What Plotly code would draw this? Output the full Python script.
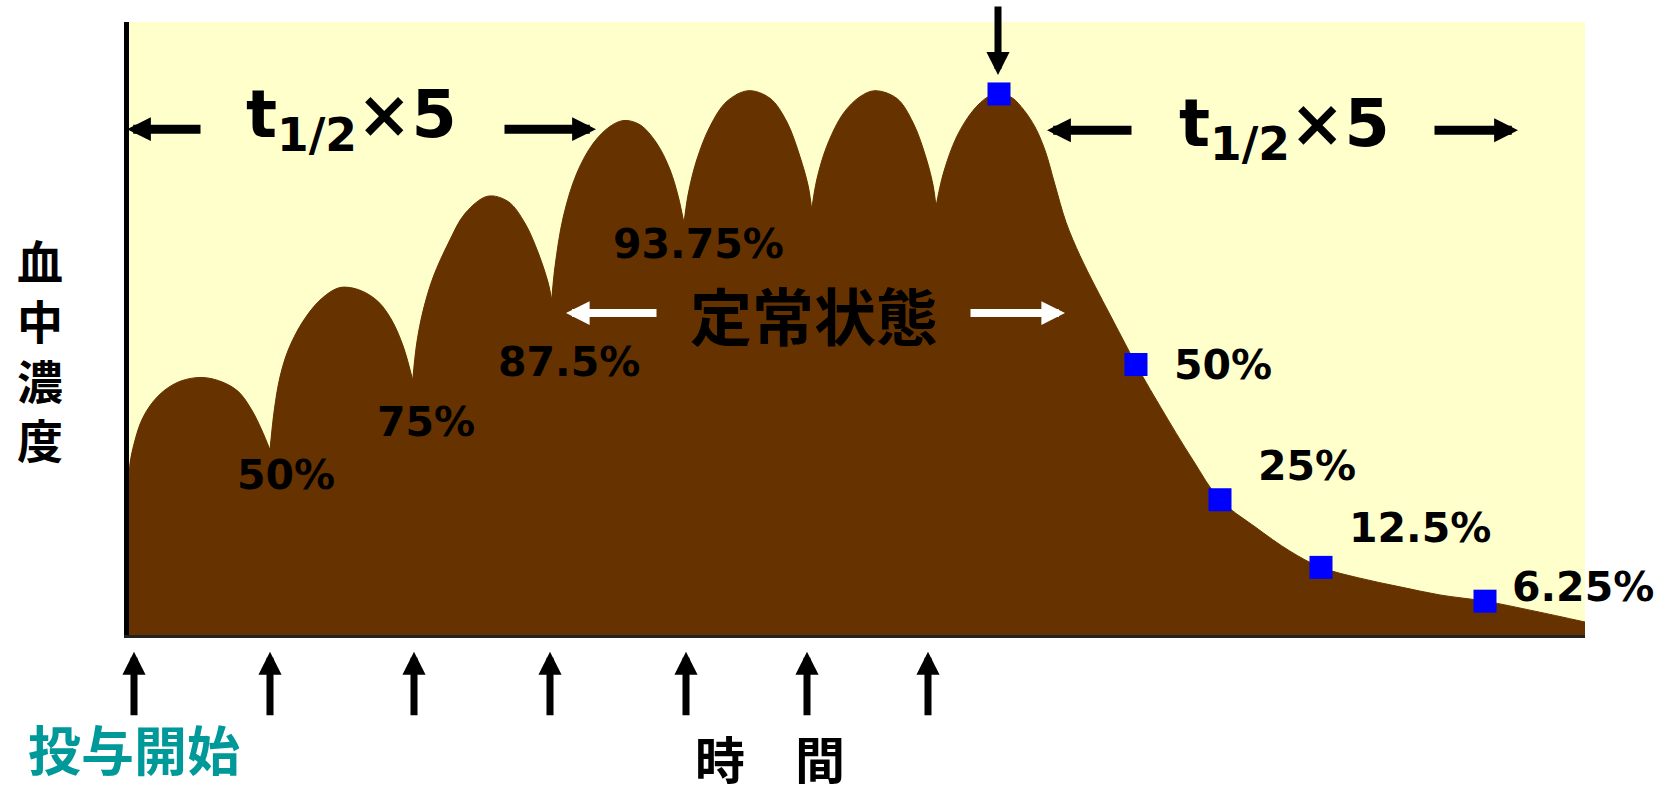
import plotly.graph_objects as go

BROWN = "#663300"
CREAM = "#FFFFCC"
BLUE = "#0000FF"
TEAL = "#009999"
LATIN = "DejaVu Sans"
CJK = "Noto Sans CJK JP"

# Blood concentration (% of steady-state peak) over time, one list per dosing interval
arc1_t = [0, 1, 6, 12.7, 22.7, 36, 52.7, 73.3, 92.7, 109.3, 122.7, 132.7, 141]
arc1_c = [27.5, 31.7, 36.0, 39.7, 42.8, 45.3, 47.0, 47.6, 46.8, 45.0, 41.6, 37.9, 34.2]

arc2_t = [141, 145.3, 151, 159.3, 172.7, 189.3, 206, 216, 232.7, 249.3, 262.7, 274.3, 283.7]
arc2_c = [34.2, 41.6, 47.7, 52.7, 57.6, 61.6, 63.9, 64.3, 63.6, 61.6, 58.2, 53.3, 47.1]

arc3_t = [283.7, 287.7, 294.3, 304.3, 319.3, 336, 358.7, 379.3, 396, 409.3, 419.3, 422.7]
arc3_c = [47.1, 53.9, 60.1, 66.2, 72.4, 77.9, 81.1, 80.1, 76.1, 70.6, 65.0, 61.9]

arc4_t = [422.7, 426, 434.3, 447.7, 464.3, 481, 495, 511, 527.7, 541, 549.3, 555]
arc4_c = [61.9, 68.1, 77.3, 85.3, 90.9, 94.0, 95.1, 94.3, 90.9, 86.0, 81.0, 76.1]

arc5_t = [555, 559.3, 567.7, 581, 597.7, 619.3, 641, 657.7, 671, 679.3, 682.7]
arc5_c = [76.1, 81.6, 87.8, 94.0, 98.6, 100.6, 99.2, 94.9, 88.4, 82.9, 78.6]

arc6_t = [682.7, 687.7, 697.7, 714.3, 731, 746, 767.7, 784.3, 797.7, 804.3, 807]
arc6_c = [78.6, 84.1, 90.3, 96.4, 99.5, 100.6, 99.2, 94.6, 87.8, 82.9, 79.2]

# last dose followed by the elimination phase
arc7_t = [807, 814.3, 827.7, 844.3, 859.3, 870, 883, 895, 906, 916, 926, 937, 951, 966, 981, 998,
          1007, 1031, 1064, 1091, 1126, 1161, 1192, 1231, 1271, 1311, 1356, 1406, 1456]
arc7_c = [79.2, 85.3, 92.1, 97.0, 99.5, 100.0, 99.3, 97.0, 93.9, 89.6, 83.2, 76.3, 70.1, 64.5, 59.2, 53.2,
          50.0, 42.3, 32.3, 25.0, 20.0, 15.5, 12.5, 10.5, 8.9, 7.4, 6.25, 4.4, 2.4]

# steady-state peak and each half-life after the last dose
mark_t = [870, 1007, 1091, 1192, 1356]
mark_c = [100, 50, 25, 12.5, 6.25]

# dosing times
dose_t = [5, 141, 285, 421, 557, 678, 799]

# fraction of steady state reached at successive troughs
accum_pct = [50, 75, 87.5, 93.75]
accum_pos = [(157, 29.6), (297, 39.4), (440, 50.5), (569, 72.2)]

X_MAX = 1456
Y_MAX = 113.3

arcs = [(arc1_t, arc1_c), (arc2_t, arc2_c), (arc3_t, arc3_c), (arc4_t, arc4_c),
        (arc5_t, arc5_c), (arc6_t, arc6_c), (arc7_t, arc7_c)]

fig = go.Figure()

# straight-segment underlay through the accumulation phase, so the joins
# between the separately smoothed dosing intervals leave no hairline gaps
base_t, base_c = list(arc1_t), list(arc1_c)
for t, c in arcs[1:6]:
    base_t += t[1:]
    base_c += c[1:]
base_t += arc7_t[1:6]
base_c += arc7_c[1:6]
fig.add_trace(go.Scatter(
    x=base_t, y=base_c, mode="lines", line=dict(color=BROWN, width=0),
    fill="tozeroy", fillcolor=BROWN, hoverinfo="skip", showlegend=False,
))

for t, c in arcs:
    fig.add_trace(go.Scatter(
        x=t, y=c, mode="lines",
        line=dict(color=BROWN, width=1, shape="spline", smoothing=1, simplify=False),
        fill="tozeroy", fillcolor=BROWN, hoverinfo="skip", showlegend=False,
    ))

fig.add_trace(go.Scatter(
    x=mark_t, y=mark_c, mode="markers",
    marker=dict(symbol="square", size=23, color=BLUE, line=dict(width=0)),
    hoverinfo="skip", showlegend=False,
))

ann = []


def place(x, y):
    # annotations are anchored in paper space so the ones beside the axes stay visible
    return dict(x=x / X_MAX, y=y / Y_MAX, xref="paper", yref="paper")


def arrow(x, y, ax, ay, color, width, size):
    ann.append(dict(**place(x, y), ax=ax, ay=ay, text="",
                    showarrow=True, arrowhead=2, arrowsize=size, arrowwidth=width,
                    arrowcolor=color))


def label(x, y, text, size, color="black", family=LATIN, xanchor="center"):
    ann.append(dict(**place(x, y), text=text, showarrow=False,
                    xanchor=xanchor, yanchor="middle",
                    font=dict(family=family, size=size, color=color, weight="bold")))


# dosing arrows under the time axis
for t in dose_t:
    arrow(t, -3.1, 0, 65, "black", 7, 0.66)

# arrow pointing at the steady-state peak
arrow(mark_t[0] - 1, 103.5, 0, -70, "black", 7, 0.66)

# five half-lives: accumulation span and elimination span
arrow(-2, 93.5, 75, 0, "black", 9, 0.53)
arrow(467, 93.5, -93, 0, "black", 9, 0.53)
arrow(918, 93.3, 86, 0, "black", 9, 0.53)
arrow(1389, 93.3, -85, 0, "black", 9, 0.53)
label(222, 95.3, "t<sub>1/2</sub>×5", 65)
label(1155, 93.7, "t<sub>1/2</sub>×5", 65)

# steady-state span
arrow(437, 59.5, 92, 0, "white", 8, 0.59)
arrow(936, 59.5, -96, 0, "white", 8, 0.59)
label(685, 59.4, "定常状態", 62, family=CJK)

# trough levels during accumulation
for v, (x, y) in zip(accum_pct, accum_pos):
    label(x, y, f"{v:g}%", 41)

# remaining fraction after each half-life
for t, v, dx, y in zip(mark_t[1:], mark_c[1:], [36, 36, 26, 25], [49.9, 31.2, 19.8, 8.9]):
    label(t + dx, y, f"{v:g}%", 41, xanchor="left")

# axis titles
label(-89, 53.0, "<br>".join("血中濃度"), 46, family=CJK)
label(641, -22.55, "時　間", 50, family=CJK)
label(5, -20.9, "投与開始", 53, color=TEAL, family=CJK)

fig.update_layout(
    width=1671, height=793,
    margin=dict(l=129, r=86, t=22, b=158, pad=0),
    paper_bgcolor="white", plot_bgcolor=CREAM,
    annotations=ann, hovermode=False, showlegend=False,
    xaxis=dict(range=[0, X_MAX], showgrid=False, zeroline=False, showticklabels=False,
               ticks="", showline=True, linecolor="#222222", linewidth=3, fixedrange=True),
    yaxis=dict(range=[0, Y_MAX], showgrid=False, zeroline=False, showticklabels=False,
               ticks="", showline=True, linecolor="black", linewidth=5, fixedrange=True),
)

fig.write_html("out.html", config={"displayModeBar": False})
